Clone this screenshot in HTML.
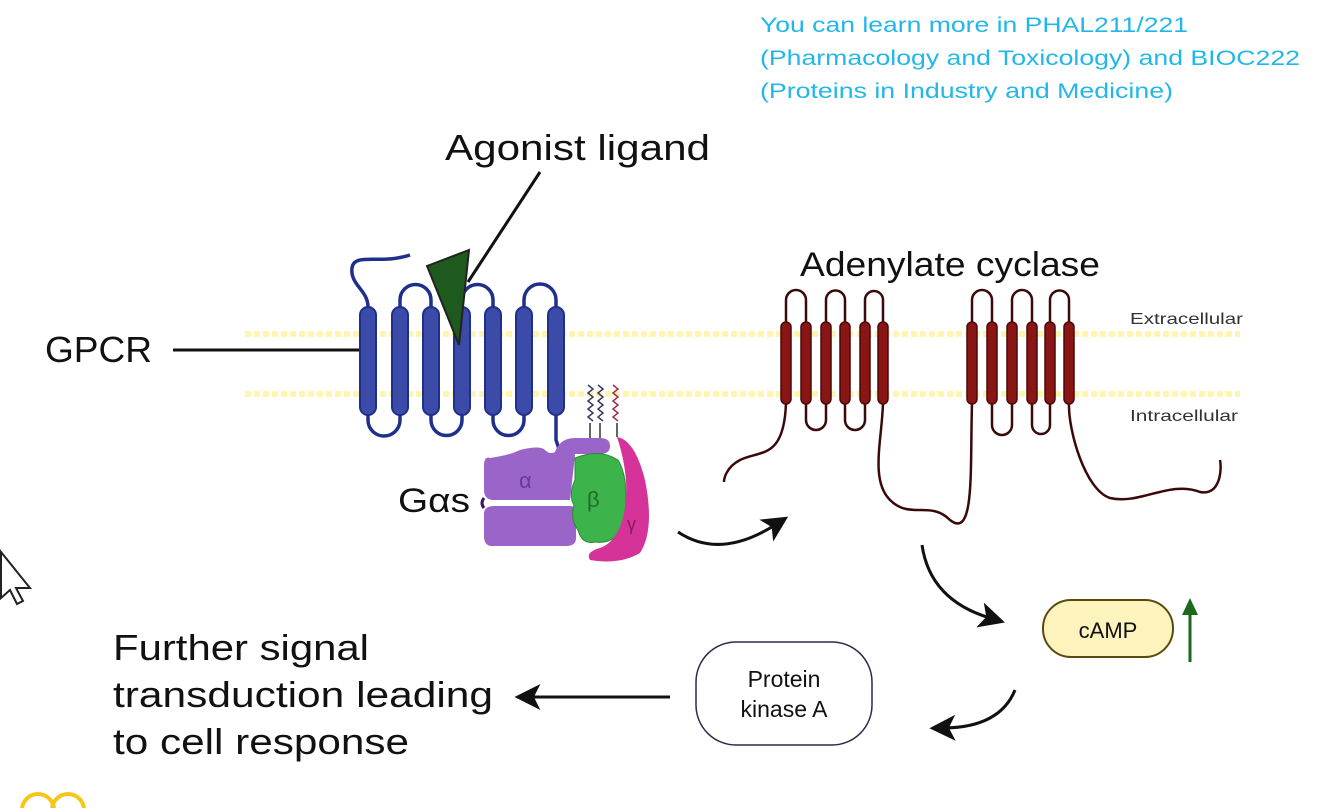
<!DOCTYPE html>
<html><head><meta charset="utf-8"><style>
html,body{margin:0;padding:0;background:#fff;}
svg{display:block;}
text{font-family:"Liberation Sans",sans-serif;}
</style></head><body>
<svg width="1334" height="808" viewBox="0 0 1334 808" xmlns="http://www.w3.org/2000/svg">
<defs>
<marker id="ah" viewBox="0 0 10 10" refX="4" refY="5" markerWidth="26" markerHeight="26" markerUnits="userSpaceOnUse" orient="auto"><path d="M0,0 L10,5 L0,10 L2.5,5 z" fill="#111"/></marker>
</defs>
<!-- top note -->
<text x="760" y="32" font-size="21" fill="#22b7e8" textLength="428" lengthAdjust="spacingAndGlyphs">You can learn more in PHAL211/221</text>
<text x="760" y="65" font-size="21" fill="#22b7e8" textLength="540" lengthAdjust="spacingAndGlyphs">(Pharmacology and Toxicology) and BIOC222</text>
<text x="760" y="98" font-size="21" fill="#22b7e8" textLength="413" lengthAdjust="spacingAndGlyphs">(Proteins in Industry and Medicine)</text>

<!-- membrane lines -->
<line x1="245" y1="334" x2="1240" y2="334" stroke="#fff5b0" stroke-width="6" stroke-dasharray="6 3"/>
<line x1="245" y1="394" x2="1240" y2="394" stroke="#fff5b0" stroke-width="6" stroke-dasharray="6 3"/>
<text x="1130" y="324" font-size="16" fill="#333" textLength="113" lengthAdjust="spacingAndGlyphs">Extracellular</text>
<text x="1130" y="421" font-size="16" fill="#333" textLength="108" lengthAdjust="spacingAndGlyphs">Intracellular</text>

<!-- labels -->
<text x="445" y="160" font-size="36" fill="#111" textLength="265" lengthAdjust="spacingAndGlyphs">Agonist ligand</text>
<line x1="540" y1="172" x2="468" y2="282" stroke="#111" stroke-width="3"/>
<text x="45" y="362" font-size="36" fill="#111" textLength="107" lengthAdjust="spacingAndGlyphs">GPCR</text>
<line x1="173" y1="350" x2="362" y2="350" stroke="#111" stroke-width="3"/>
<text x="800" y="276" font-size="34" fill="#111" textLength="300" lengthAdjust="spacingAndGlyphs">Adenylate cyclase</text>

<!-- GPCR loops -->
<g fill="none" stroke="#1f2f8a" stroke-width="3.5">
<path d="M368,307 C368,290 350,285 352,268 C354,252 380,265 410,255"/>
<path d="M400,307 V300 A15.5,15.5 0 0 1 431,300 V307"/>
<path d="M462,307 V300 A15.5,15.5 0 0 1 493,300 V307"/>
<path d="M524,307 V300 A16,16 0 0 1 556,300 V307"/>
<path d="M368,415 V420 A16,16 0 0 0 400,420 V415"/>
<path d="M431,415 V420 A15.5,15.5 0 0 0 462,420 V415"/>
<path d="M493,415 V420 A15.5,15.5 0 0 0 524,420 V415"/>
<path d="M556,415 V440 L560,452"/>
</g>
<g fill="#3c4aa8" stroke="#1f2f8a" stroke-width="2">
<rect x="360" y="307" width="16" height="108" rx="8"/>
<rect x="392" y="307" width="16" height="108" rx="8"/>
<rect x="423" y="307" width="16" height="108" rx="8"/>
<rect x="454" y="307" width="16" height="108" rx="8"/>
<rect x="485" y="307" width="16" height="108" rx="8"/>
<rect x="516" y="307" width="16" height="108" rx="8"/>
<rect x="548" y="307" width="16" height="108" rx="8"/>
</g>
<polygon points="427,266 469,250 459,345" fill="#1e5a1e" stroke="#222" stroke-width="2"/>

<!-- lipid tails -->
<g fill="none" stroke-width="1.5">
<path d="M588,385 l5,4 -5,4 5,4 -5,4 5,4 -5,4 5,4 -5,4 5,4" stroke="#3a3a6a"/>
<path d="M598,385 l5,4 -5,4 5,4 -5,4 5,4 -5,4 5,4 -5,4 5,4" stroke="#3a3a6a"/>
<path d="M613,385 l5,4 -5,4 5,4 -5,4 5,4 -5,4 5,4 -5,4 5,4" stroke="#a03050"/>
<line x1="590" y1="423" x2="590" y2="440" stroke="#333"/>
<line x1="600" y1="423" x2="600" y2="440" stroke="#333"/>
<line x1="617" y1="423" x2="617" y2="437" stroke="#333"/>
</g>
<!-- G protein -->
<path d="M490,458 Q484,456 484,466 V490 Q484,500 494,500 H570 L575,455 L572,450 Q560,445 555,452 Q550,455 545,450 Q540,445 520,450 Q510,455 490,458 z" fill="#9a64c8"/>
<path d="M555,452 Q560,438 575,438 H600 Q610,438 610,446 Q610,454 600,454 H575 Q565,456 560,460 z" fill="#9a64c8"/>
<path d="M494,506 H570 Q576,506 576,514 V538 Q576,546 566,546 H492 Q484,546 484,536 V514 Q484,506 494,506 z" fill="#9a64c8"/>
<path d="M484,498 Q480,503 484,508" fill="none" stroke="#3a1a5a" stroke-width="3"/>
<path d="M575,458 Q600,448 618,460 Q630,480 624,520 Q618,545 595,542 Q582,545 578,530 Q570,520 574,505 Q568,495 575,480 z" fill="#3cb44b" stroke="#2a8a35" stroke-width="1"/>
<path d="M617,437 Q635,440 645,480 Q655,530 640,553 Q620,565 590,560 Q585,552 600,548 Q622,540 626,500 Q628,470 617,437 z" fill="#d6339a"/>
<text x="519" y="488" font-size="22" fill="#6a3a9a">α</text>
<text x="587" y="507" font-size="22" fill="#226a2a">β</text>
<text x="627" y="530" font-size="18" fill="#8a1a5a">γ</text>
<text x="398" y="512" font-size="34" fill="#111" textLength="72" lengthAdjust="spacingAndGlyphs">Gαs</text>

<!-- Adenylate cyclase -->
<g fill="none" stroke="#3a0a0a" stroke-width="2.5">
<path d="M806,323 V300 A10,10 0 0 0 786,300 V323"/>
<path d="M845,323 V300 A9.5,9.5 0 0 0 826,300 V323"/>
<path d="M883,323 V300 A9,9 0 0 0 865,300 V323"/>
<path d="M806,403 V420 A10,10 0 0 0 826,420 V403"/>
<path d="M845,403 V420 A10,10 0 0 0 865,420 V403"/>
<path d="M992,323 V300 A10,10 0 0 0 972,300 V323"/>
<path d="M1032,323 V300 A10,10 0 0 0 1012,300 V323"/>
<path d="M1069,323 V300 A9.5,9.5 0 0 0 1050,300 V323"/>
<path d="M992,403 V425 A10,10 0 0 0 1012,425 V403"/>
<path d="M1032,403 V425 A9,9 0 0 0 1050,425 V403"/>
<path d="M786,403 C784,460 760,450 740,460 C725,468 724,480 724,482"/>
<path d="M883,403 C882,440 870,480 890,500 C910,520 930,500 950,520 C975,540 970,470 972,403"/>
<path d="M1069,403 C1068,430 1085,490 1110,498 C1140,505 1170,480 1200,492 C1220,496 1222,470 1220,460"/>
</g>
<g fill="#8a1515" stroke="#4a0a0a" stroke-width="1.5">
<rect x="781" y="322" width="10" height="82" rx="5"/><rect x="801" y="322" width="10" height="82" rx="5"/>
<rect x="821" y="322" width="10" height="82" rx="5"/><rect x="840" y="322" width="10" height="82" rx="5"/>
<rect x="860" y="322" width="10" height="82" rx="5"/><rect x="878" y="322" width="10" height="82" rx="5"/>
<rect x="967" y="322" width="10" height="82" rx="5"/><rect x="987" y="322" width="10" height="82" rx="5"/>
<rect x="1007" y="322" width="10" height="82" rx="5"/><rect x="1027" y="322" width="10" height="82" rx="5"/>
<rect x="1045" y="322" width="10" height="82" rx="5"/><rect x="1064" y="322" width="10" height="82" rx="5"/>
</g>

<!-- curved arrows -->
<g fill="none" stroke="#111" stroke-width="3">
<path d="M678,532 Q720,560 775,525" marker-end="url(#ah)"/>
<path d="M922,545 Q930,600 990,618" marker-end="url(#ah)"/>
<path d="M1015,690 Q1000,727 945,728" marker-end="url(#ah)"/>
<line x1="670" y1="697" x2="530" y2="697" marker-end="url(#ah)"/>
</g>

<!-- cAMP -->
<rect x="1043" y="600" width="130" height="57" rx="28" fill="#fdf3bd" stroke="#5a4a10" stroke-width="2"/>
<text x="1108" y="638" font-size="22" fill="#111" text-anchor="middle">cAMP</text>
<line x1="1190" y1="662" x2="1190" y2="612" stroke="#1a6a1a" stroke-width="3"/>
<polygon points="1182,615 1190,598 1198,615" fill="#1a6a1a"/>

<!-- PKA -->
<rect x="696" y="642" width="176" height="103" rx="40" fill="#fff" stroke="#2a2a4a" stroke-width="1.5"/>
<text x="784" y="687" font-size="23" fill="#111" text-anchor="middle">Protein</text>
<text x="784" y="717" font-size="23" fill="#111" text-anchor="middle">kinase A</text>

<text x="113" y="660" font-size="36" fill="#111" textLength="256" lengthAdjust="spacingAndGlyphs">Further signal</text>
<text x="113" y="707" font-size="36" fill="#111" textLength="380" lengthAdjust="spacingAndGlyphs">transduction leading</text>
<text x="113" y="754" font-size="36" fill="#111" textLength="296" lengthAdjust="spacingAndGlyphs">to cell response</text>

<!-- cursor -->
<path d="M1,552 L1,598 L10,590 L17,604 L23,601 L16,588 L30,588 z" fill="#fff" stroke="#222" stroke-width="2"/>
<!-- bottom logo hint -->
<circle cx="38" cy="810" r="16" fill="none" stroke="#f5c518" stroke-width="4"/>
<circle cx="68" cy="810" r="16" fill="none" stroke="#f5c518" stroke-width="4"/>
</svg>
</body></html>
